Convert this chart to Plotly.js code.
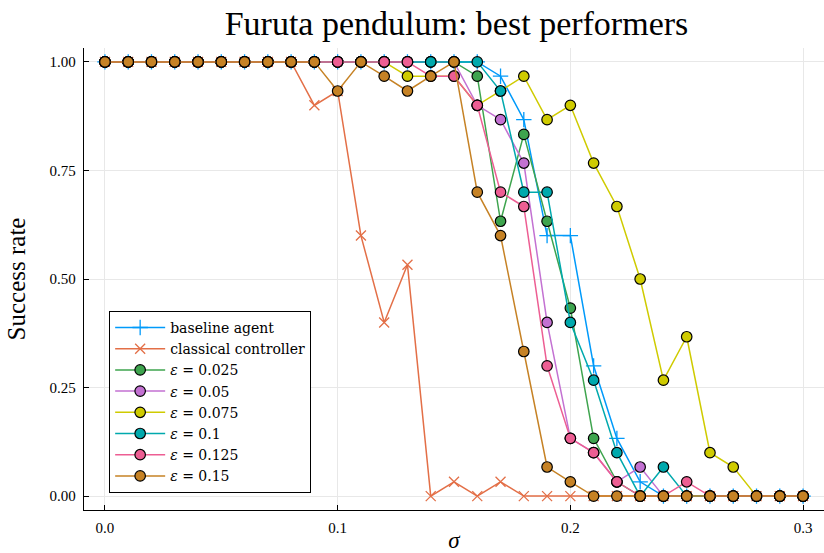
<!DOCTYPE html>
<html>
<head>
<meta charset="utf-8">
<script src="https://cdn.plot.ly/plotly-3.0.1.min.js"></script>
<style>html,body{margin:0;padding:0;background:#fff;}#chart{width:824px;height:553px;}</style>
</head>
<body>
<div id="chart"></div>
<script>
const sigma = [0.00,0.01,0.02,0.03,0.04,0.05,0.06,0.07,0.08,0.09,0.10,0.11,0.12,0.13,0.14,0.15,0.16,0.17,0.18,0.19,0.20,0.21,0.22,0.23,0.24,0.25,0.26,0.27,0.28,0.29,0.30];

const baseline  = [1,1,1,1,1,1,1,1,1,1,1,1,1,1,1,1,1,0.967,0.867,0.6,0.6,0.3,0.133,0.033,0,0,0,0,0,0,0];
const classical = [1,1,1,1,1,1,1,1,1,0.9,0.933,0.6,0.4,0.533,0,0.033,0,0.033,0,0,0,0,0,0,0,0,0,0,0,0,0];
const eps025 = [1,1,1,1,1,1,1,1,1,1,1,1,1,1,1,1,0.967,0.633,0.833,0.633,0.433,0.133,0.033,0,0,0,0,0,0,0,0];
const eps050 = [1,1,1,1,1,1,1,1,1,1,1,1,1,1,1,1,0.9,0.867,0.767,0.4,0.133,0.1,0.033,0.067,0,0,0,0,0,0,0];
const eps075 = [1,1,1,1,1,1,1,1,1,1,1,1,1,0.967,0.967,0.967,0.9,0.933,0.967,0.867,0.9,0.767,0.667,0.5,0.267,0.367,0.1,0.067,0,0,0];
const eps100 = [1,1,1,1,1,1,1,1,1,1,1,1,1,1,1,1,1,0.933,0.7,0.7,0.4,0.267,0.1,0,0.067,0,0,0,0,0,0];
const eps125 = [1,1,1,1,1,1,1,1,1,1,1,1,1,1,0.967,0.967,0.9,0.7,0.667,0.3,0.133,0.1,0.033,0,0,0.033,0,0,0,0,0];
const eps150 = [1,1,1,1,1,1,1,1,1,1,0.933,1,0.967,0.933,0.967,1,0.7,0.6,0.333,0.067,0.033,0,0,0,0,0,0,0,0,0,0];

const names = ["baseline agent","classical controller","<i>ε</i> = 0.025","<i>ε</i> = 0.05","<i>ε</i> = 0.075","<i>ε</i> = 0.1","<i>ε</i> = 0.125","<i>ε</i> = 0.15"];
const colors = ["#009afa","#e36f47","#3ea44e","#c371d2","#cfcb00","#00a9ad","#ed5e93","#c68225"];
const series = [baseline, classical, eps025, eps050, eps075, eps100, eps125, eps150];

const traces = series.map((ys, i) => {
  let marker;
  if (i === 0) marker = {symbol:"cross-thin", size:11, color:colors[i], line:{color:colors[i], width:1.3}};
  else if (i === 1) marker = {symbol:"x-thin", size:10, color:colors[i], line:{color:colors[i], width:1.3}};
  else marker = {symbol:"circle", size:10.5, color:colors[i], line:{color:"#000", width:1.2}};
  return {x: sigma, y: ys, name: names[i], type:"scatter", mode:"lines+markers",
          line:{color:colors[i], width:1.5}, marker: marker};
});

const serif = "Liberation Serif, Times New Roman, serif";
const wide = "DejaVu Serif, serif";
const layout = {
  width:824, height:553,
  margin:{l:84, r:0, t:48, b:43},
  paper_bgcolor:"#fff", plot_bgcolor:"#fff",
  font:{family:serif, color:"#000", size:14},
  title:{text:"Furuta pendulum: best performers", font:{family:serif, size:34, color:"#000"},
         x:0.554, xref:"container", xanchor:"center", y:0.958, yref:"container", yanchor:"middle"},
  xaxis:{range:[-0.009,0.309], tickvals:[0,0.1,0.2,0.3], ticktext:["0.0","0.1","0.2","0.3"],
         showline:true, linecolor:"#000", linewidth:1.2, mirror:false, zeroline:false,
         ticks:"inside", ticklen:5, tickcolor:"#000", showgrid:true, gridcolor:"#e8e8e8", gridwidth:1,
         tickfont:{family:serif, size:15}, automargin:false, ticklabelstandoff:4,
         title:{text:"<i>σ</i>", font:{family:serif, size:23}, standoff:2}},
  yaxis:{range:[-0.032,1.032], tickvals:[0,0.25,0.5,0.75,1], ticktext:["0.00","0.25","0.50","0.75","1.00"],
         showline:true, linecolor:"#000", linewidth:1.2, mirror:false, zeroline:false,
         ticks:"inside", ticklen:5, tickcolor:"#000", showgrid:true, gridcolor:"#e8e8e8", gridwidth:1,
         tickfont:{family:serif, size:15}, automargin:false, ticklabelstandoff:4,
         title:{text:"Success rate", font:{family:serif, size:25}, standoff:16}},
  legend:{x:0.034, y:0.037, xanchor:"left", yanchor:"bottom", bgcolor:"#fff",
          bordercolor:"#000", borderwidth:1, font:{family:wide, size:14}, itemwidth:50,
          tracegroupgap:0},
  showlegend:true
};

Plotly.newPlot("chart", traces, layout, {displayModeBar:false, staticPlot:true});
</script>
</body>
</html>
